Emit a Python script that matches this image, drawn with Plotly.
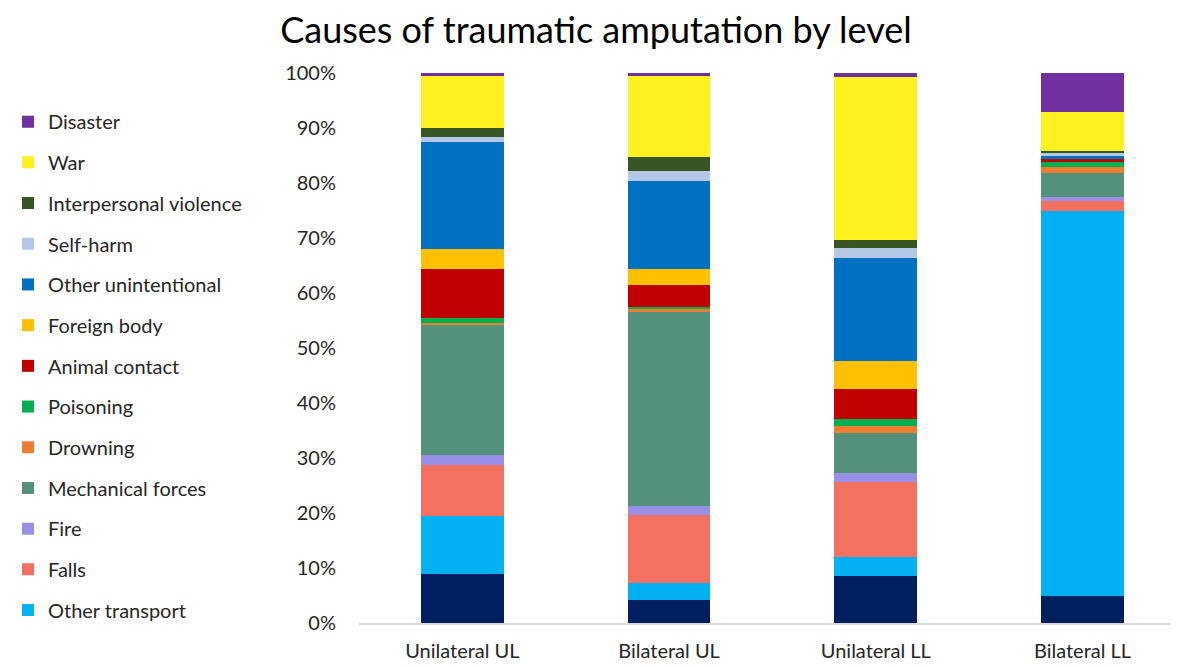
import plotly.graph_objects as go

categories = ["Unilateral UL", "Bilateral UL", "Unilateral LL", "Bilateral LL"]

road_injury = [9.0, 4.1, 8.6, 4.9]
other_transport = [10.4, 3.1, 3.4, 70.0]
falls = [9.3, 12.4, 13.6, 1.8]
fire = [1.8, 1.7, 1.7, 0.8]
mechanical_forces = [23.6, 35.2, 7.3, 4.4]
drowning = [0.4, 0.7, 1.3, 1.0]
poisoning = [0.9, 0.3, 1.2, 0.9]
animal_contact = [9.0, 4.0, 5.4, 0.5]
foreign_body = [3.6, 2.9, 5.2, 0.0]
other_unintentional = [19.5, 16.0, 18.7, 0.6]
self_harm = [0.9, 1.7, 1.8, 0.6]
interpersonal_violence = [1.6, 2.7, 1.4, 0.4]
war = [9.5, 14.7, 29.7, 7.0]
disaster = [0.5, 0.5, 0.7, 7.1]

y_ticks = [0, 10, 20, 30, 40, 50, 60, 70, 80, 90, 100]
y_tick_labels = [f"{v}%" for v in y_ticks]

series = [
    ("Road injury", road_injury, "#002060", False),
    ("Other transport", other_transport, "#00B0F0", True),
    ("Falls", falls, "#F27161", True),
    ("Fire", fire, "#998FE6", True),
    ("Mechanical forces", mechanical_forces, "#53917C", True),
    ("Drowning", drowning, "#ED7D31", True),
    ("Poisoning", poisoning, "#00B050", True),
    ("Animal contact", animal_contact, "#C00000", True),
    ("Foreign body", foreign_body, "#FFC000", True),
    ("Other unintentional", other_unintentional, "#0070C0", True),
    ("Self-harm", self_harm, "#B4C7E7", True),
    ("Interpersonal violence", interpersonal_violence, "#375623", True),
    ("War", war, "#FFF01F", True),
    ("Disaster", disaster, "#7030A0", True),
]

fig = go.Figure()
n = len(series)
for i, (name, vals, color, show) in enumerate(series):
    fig.add_trace(go.Bar(
        x=categories, y=vals, name=name, marker_color=color,
        marker_line_width=0, showlegend=show, legendgroup=name,
        legendrank=n - i, width=0.40,
    ))

FONT = "Lato"
fig.update_layout(
    barmode="stack",
    width=1170, height=660,
    margin=dict(l=351, r=0, t=65, b=45, autoexpand=False),
    plot_bgcolor="white", paper_bgcolor="white",
    font=dict(family=FONT, size=20, color="#262626"),
    title=dict(text="Causes of traumatic amputation by level",
               x=588 / 1170, xref="container", xanchor="center",
               y=1 - 22 / 660, yref="container", yanchor="middle",
               font=dict(family=FONT, size=36, color="#000000")),
    xaxis=dict(range=[-0.5, 3.462], showline=True, linecolor="#D9D9D9",
               linewidth=1.5, ticks="", ticklabelstandoff=9,
               tickfont=dict(size=20, color="#262626")),
    yaxis=dict(range=[0, 100], tickmode="array", tickvals=y_ticks,
               ticktext=y_tick_labels, ticklabelstandoff=22,
               showgrid=False, zeroline=False, showline=False,
               tickfont=dict(size=20, color="#262626"), ticklen=0),
    legend=dict(x=-351 / 819, xanchor="left", y=0.947, yanchor="top",
                traceorder="grouped", tracegroupgap=11.7,
                font=dict(size=20, color="#262626"),
                itemwidth=30, bgcolor="rgba(0,0,0,0)"),
)

fig.write_html("out.html")
